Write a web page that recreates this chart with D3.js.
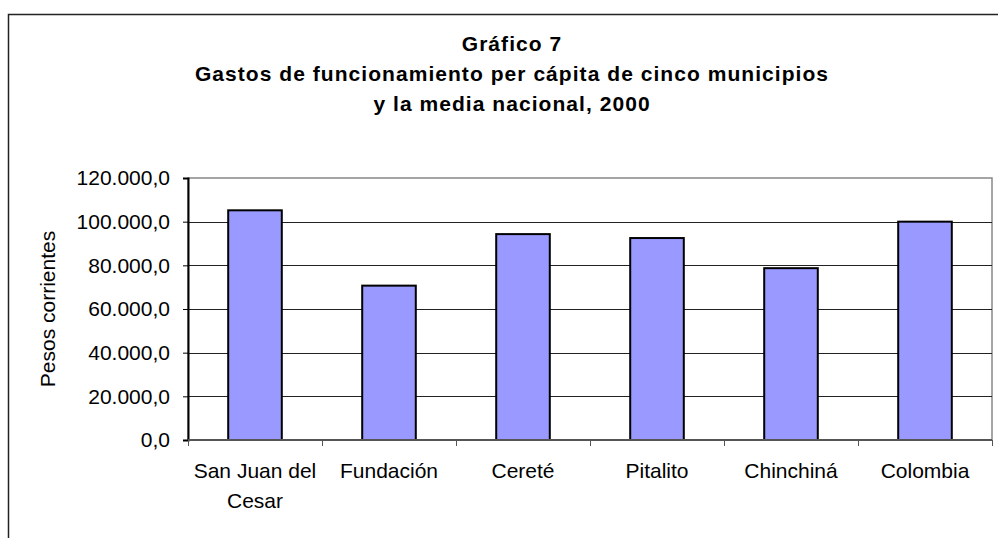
<!DOCTYPE html>
<html>
<head>
<meta charset="utf-8">
<script src="https://cdn.jsdelivr.net/npm/d3@7"></script>
<style>
  body { margin: 0; background: #fff; }
  text { font-family: "Liberation Sans", Arial, sans-serif; fill: #000; }
</style>
</head>
<body>
<div id="chart"></div>
<script>
(function(){

    // chart data
    var categories = ["San Juan del\nCesar", "Fundación", "Cereté", "Pitalito", "Chinchiná", "Colombia"];
    var gastos = [105200, 70700, 94300, 92500, 78700, 100000];
    var yTicks = [0, 20000, 40000, 60000, 80000, 100000, 120000];
    var titleLines = ["Gráfico 7",
        "Gastos de funcionamiento per cápita de cinco municipios",
        "y la media nacional, 2000"];
    var yTitle = "Pesos corrientes";

    var width = 998, height = 538;
    var plot = {left: 188, right: 992, top: 178, bottom: 440};
    var fontSize = "21px";

    var svg = d3.select("#chart")
        .append("svg")
        .attr("width", width)
        .attr("height", height);

    // outer chart frame (runs off the page on right and bottom)
    svg.append("rect")
        .attr("x", 8.5)
        .attr("y", 14.5)
        .attr("width", 1000)
        .attr("height", 600)
        .attr("fill", "#fff")
        .attr("stroke", "#222")
        .attr("stroke-width", 1.5);

    // title
    svg.append("text")
        .attr("x", 512)
        .attr("y", 51)
        .attr("text-anchor", "middle")
        .style("font-size", "21px")
        .style("font-weight", "bold")
        .style("letter-spacing", "1.05px")
        .selectAll("tspan")
        .data(titleLines)
        .enter()
        .append("tspan")
        .attr("x", 512)
        .attr("dy", function(d, i){ return i == 0 ? 0 : 30; })
        .text(function(d){ return d; });

    // scales
    var x = d3.scaleBand()
        .domain(categories)
        .range([plot.left, plot.right])
        .paddingInner(0.6)
        .paddingOuter(0.3);

    var xEdge = d3.scaleBand()
        .domain(categories)
        .range([plot.left, plot.right]);

    var y = d3.scaleLinear()
        .domain([0, 120000])
        .range([plot.bottom, plot.top]);

    var locale = d3.formatLocale({decimal: ",", thousands: ".", grouping: [3], currency: ["$", ""]});
    var fmt = locale.format(",.1f");

    // plot area
    svg.append("rect")
        .attr("x", plot.left)
        .attr("y", plot.top)
        .attr("width", plot.right - plot.left)
        .attr("height", plot.bottom - plot.top)
        .attr("fill", "#fff")
        .attr("stroke", "#888")
        .attr("stroke-width", 1.5);

    // gridlines
    svg.append("g")
        .selectAll("line")
        .data(yTicks.filter(function(d){ return d > 0 && d < 120000; }))
        .enter()
        .append("line")
        .attr("x1", plot.left)
        .attr("x2", plot.right)
        .attr("y1", function(d){ return Math.round(y(d)) + 0.5; })
        .attr("y2", function(d){ return Math.round(y(d)) + 0.5; })
        .attr("stroke", "#222")
        .attr("stroke-width", 1.2);

    // bars
    svg.append("g")
        .selectAll("rect")
        .data(gastos)
        .enter()
        .append("rect")
        .attr("x", function(d, i){ return x(categories[i]); })
        .attr("y", function(d){ return y(d); })
        .attr("width", x.bandwidth())
        .attr("height", function(d){ return y(0) - y(d); })
        .attr("fill", "#9999ff")
        .attr("stroke", "#000")
        .attr("stroke-width", 2);

    // y axis
    var yAxis = svg.append("g")
        .attr("transform", "translate(" + plot.left + ",0)")
        .call(d3.axisLeft(y).tickValues(yTicks).tickFormat(fmt).tickSize(5).tickPadding(13));
    yAxis.select(".domain").attr("stroke", "#000").attr("stroke-width", 2);
    yAxis.selectAll(".tick line").attr("stroke", "#000");
    yAxis.selectAll("text")
        .style("font-size", fontSize)
        .style("font-family", "Liberation Sans, Arial, sans-serif");

    // x axis line and ticks at category edges
    var xAxis = svg.append("g");
    xAxis.append("line")
        .attr("x1", plot.left)
        .attr("x2", plot.right)
        .attr("y1", plot.bottom)
        .attr("y2", plot.bottom)
        .attr("stroke", "#555")
        .attr("stroke-width", 2);
    var edges = categories.map(function(c){ return xEdge(c); }).concat([xEdge.range()[1]]);
    xAxis.selectAll(".xtick")
        .data(edges)
        .enter()
        .append("line")
        .attr("class", "xtick")
        .attr("x1", function(d){ return Math.round(d) + 0.5; })
        .attr("x2", function(d){ return Math.round(d) + 0.5; })
        .attr("y1", plot.bottom)
        .attr("y2", plot.bottom + 6)
        .attr("stroke", "#555");

    // category labels
    xAxis.selectAll(".xlabel")
        .data(categories)
        .enter()
        .append("text")
        .attr("class", "xlabel")
        .attr("text-anchor", "middle")
        .attr("y", 478)
        .style("font-size", fontSize)
        .each(function(d){
            var cx = x(d) + x.bandwidth() / 2;
            d3.select(this).selectAll("tspan")
                .data(d.split("\n"))
                .enter()
                .append("tspan")
                .attr("x", cx)
                .attr("dy", function(t, i){ return i == 0 ? 0 : 30; })
                .text(function(t){ return t; });
        });

    // y axis title
    svg.append("text")
        .attr("transform", "translate(55," + ((plot.top + plot.bottom) / 2) + ") rotate(-90)")
        .attr("text-anchor", "middle")
        .style("font-size", fontSize)
        .text(yTitle);

})();
</script>
</body>
</html>
